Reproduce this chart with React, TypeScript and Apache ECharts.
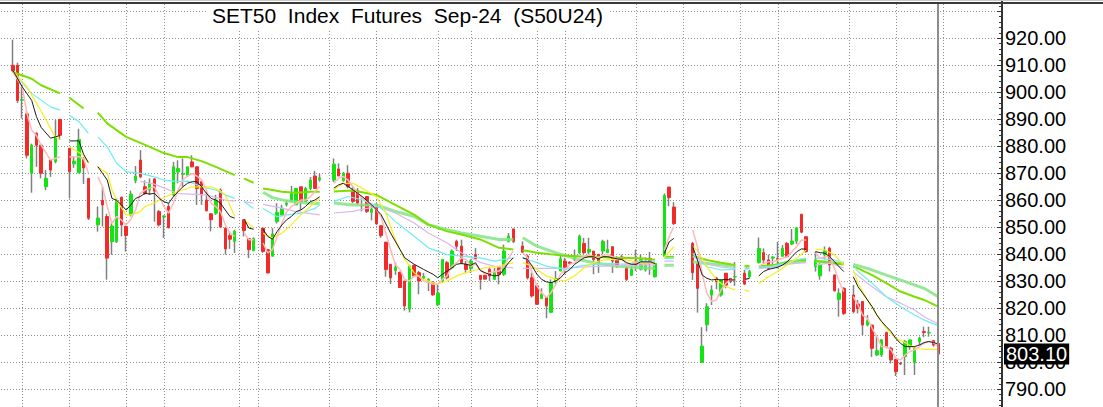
import React, { useEffect, useRef } from "react";
import * as echarts from "echarts";

const TITLE = "SET50  Index  Futures  Sep-24  (S50U24)";
const LAST_PRICE = 803.1;
const OFFSET = 2;
const TOTAL = 212;
const GAPS = [11, 17, 48, 52, 66, 67, 107, 137, 141, 142, 143, 154, 157, 169, 177];
const GRID_SLOTS = [2, 12, 24, 32, 48, 52, 67, 77, 90, 97, 111, 117, 132, 142, 154, 162, 177, 187, 197];
const NOW_SLOT = 196;
const SHIFT = 16; // chart box starts 16px above the page so the 940/780 frame falls outside the view

const OPEN = [910,910,897,892,870,884.8,880.4,865,874.9,874.3,
889.9,null,879.2,873.5,870.2,875,868.1,null,850.9,859.9,
854,844.7,844.7,861.1,850.3,854.6,867.3,874.9,865,863.8,
867.9,855.8,853.8,857.7,862,870.5,869.6,869.3,874.2,872.4,
866.9,860.1,855,855.2,863.8,849.7,846.9,844.8,null,852.8,
845.8,841.3,null,849.7,841.7,839.3,852.1,854.6,858.5,859.5,
858.3,865,859.5,864.4,869,867.6,null,null,867.5,871.6,
867.3,870,863.3,863.6,858.2,861.4,855.5,858.3,850.6,844.5,
836.3,834,833.4,830.1,819.7,835.9,833.2,831.2,829.5,829.5,
821.3,830.1,836.9,835,844.8,843,836.3,834.7,839.9,832.2,
832.2,834.4,830.7,835,832.6,844.8,849.4,null,843,839.3,
831.3,828.3,823.6,824,818.5,829.8,833.8,837.5,837,838.1,
840.6,844,840.8,841.2,840,841.2,840.6,842.8,838.1,839,
835,832.2,837.5,834.5,834.2,838.5,831.7,null,839.3,864.9,
857.5,null,null,null,844,836.6,800,813.9,824.9,831.1,
824.9,833,831.1,831.6,null,833,831.7,null,836.9,840.6,
837.9,838.6,838.4,839.3,844,843.8,844.9,854.8,846.5,null,
835.4,832,839.8,842.2,832.3,823.3,827.4,null,824.9,821.6,
822.5,813.8,813.8,802.7,802.7,811,805.2,801.1,799.6,802.1,
805.8,799.9,807.7,811.4,810.9,808,807];

const HIGH = [919.5,911,902,893,881,885.2,881,871.2,875.2,889.7,
890.2,null,879.5,876.1,886.5,876,868.3,null,857.7,865,
855,851.5,860.7,861.4,850.6,863.6,872.7,878.6,867.4,868.1,
868.2,856.4,854.4,858.9,874.2,874.8,875.5,872.4,876.7,872.6,
867.2,863.1,855.3,862,864.4,850,848.5,849.1,null,852.8,
846,846.3,null,849.7,841.9,849.7,858.9,858.3,860.1,865.3,
864.4,865,865,868.6,870.9,869.9,null,null,875.5,873.7,
870.5,873,865.1,864.5,861.4,861.4,858.3,858.9,850.6,844.5,
836.3,836.9,833.4,830.1,836.1,836.1,833.8,833.1,831.2,830.1,
828.9,838.1,837.5,841.8,845.4,845.4,837.5,838.1,842.3,832.2,
832.6,835,835,835,843.6,847.9,849.4,null,844.8,839.9,
833.2,829,827.4,824,830.7,833.8,840.1,838.7,837.5,841.8,
847.3,846.1,846.1,841.2,840,845.4,845.4,843,839.3,839.9,
835.6,835.6,841.8,840,838.9,840.9,836.9,null,862.5,864.9,
859.3,null,null,null,844.6,836.6,813,821.9,828.5,831.7,
830.5,833,831.1,837.1,null,834.2,834.2,null,846.2,842.2,
839.9,839.3,844.6,843.4,844.6,849.4,849.8,855,846.5,null,
841,836.7,842.9,842.8,832.6,827.4,827.8,null,828.6,823.1,
822.5,817.5,813.8,809.9,808.6,811.4,805.8,801.1,800.2,808.3,
808.3,805.8,809.5,813.2,813.2,808.3,807.3];

const LOW = [907.5,896,890.3,875.5,862.8,872.4,868.1,863.8,868.7,873.7,
882.3,null,860.7,872,870,866,852.7,null,848.4,850.3,
830.6,839.8,844.2,846.6,841,854,866.3,868.2,862,862,
852.1,850.3,846,849.5,861.4,866.3,865,868.7,872.2,858.3,
858.3,855.8,848.5,854.6,849.7,839.9,842,840.5,null,846.6,
838.6,841.3,null,840.5,832.9,839.2,851.4,854,857.7,859.5,
858.3,856.4,859.5,863.8,864.4,866.9,null,null,866.8,869,
866.9,864.4,858.9,858.3,855.9,855.3,852.6,850.9,846.1,831.7,
829,832.4,827.7,819.1,818.5,831.4,825.2,830.7,826.4,824.6,
820.9,829.5,830.7,834.4,841.2,836.3,833.1,833.1,838.3,826.9,
830.7,830.1,830.7,828.9,832,844.4,844.2,null,840.6,830.7,
824,821.5,823.6,816.3,818.5,828.9,833.8,832.6,836.3,837.5,
840,840,840,832.6,833.1,840,840.6,833.1,835,838.1,
830.1,832.2,833.8,834,833.6,832.4,831.4,null,839.1,857.8,
850.8,null,null,null,830.5,818.4,800,811.4,821.2,827.1,
824.3,827.4,829.3,828.3,null,828.6,831.1,null,836.6,836.6,
834.2,836,834.8,839.1,838.9,843.4,843.8,847.8,840.6,null,
833.6,830.6,838.1,833.6,826.2,816.9,817.5,null,818.1,818.1,
810.1,813.3,802,802.3,802,805.2,799.6,794.9,799,795.3,
804.6,795.3,806.4,809.3,809.5,805.8,802.7];

const CLOSE = [908,897,897.3,876.7,880.4,880.4,870,868.1,871.2,883.5,
884.1,null,870.6,874.5,882.5,872,853.4,null,853.4,858.3,
838.6,850.5,859.5,850.9,847,862.3,869,868.7,862.6,866.3,
863.4,850.9,854.2,849.9,872.4,871.8,869.8,872.4,872.4,864.4,
862,856.2,852.8,860.1,850.1,842,845.6,848.5,null,848.8,
841.7,845.8,null,841.1,833.1,847.5,855.5,857.1,858.9,862.6,
864.4,859.5,864.4,867.5,864.4,868.3,null,null,873.4,869,
870,865.1,859.6,859,858,855.9,856.7,851.3,846.9,834.4,
831.3,835.2,827.7,820.9,835.6,832,830.1,831.8,830.7,825,
825.6,838.1,831.3,841.2,843,836.9,834.4,837.5,838.3,830.7,
830.8,832,833.2,832.6,841.2,846.7,844.8,null,840.8,831.3,
824.6,821.5,825.2,820.9,829.5,831,838.3,835,836.6,839.6,
846.7,840.6,841.8,838.1,836.9,844.8,841.8,837.5,835.6,838.3,
830.7,834.4,836.3,838,836.6,837.2,836.6,null,861.8,861,
851.4,null,null,null,833.2,827.4,806,820.6,826.8,829.9,
830.5,828.6,829.9,831.8,null,829,833.6,null,842.2,837.9,
834.8,839,838,842.2,839.1,844.9,849.8,848.2,841,null,
837.9,836.1,841.4,836.1,826.5,825.6,818.1,null,818.8,820,
813.8,815.4,805.2,804.3,808.3,805.8,800.9,796.5,799.4,807.7,
808.3,805.2,808.9,811,811.1,806.4,803.1];

// moving-average lines: [slot, value]
const MA_BLACK = [[0,908.2],[2,902],[4,897],[5,891],[6,887],[8,883],[9,883.5],[10,884],[12,882],[14,882],[15,877],[16,874],
[18,872.5],[19,870],[20,867.5],[21,860.7],[22,860],[23,858.3],[24,856.4],[25,858.3],[26,860.7],[27,861.4],[28,862.6],[29,862.3],[30,862.6],[31,860.7],[32,859.5],[33,858.9],[34,861.3],[35,863.2],[36,865],[37,866.3],[38,866.9],[39,866.9],[40,865],[41,862.6],[42,860.7],[43,860.1],[44,858.9],[45,856.4],[46,854],[47,853.4],
[49,853],[50,849.7],[51,849.3],[53,849.3],[54,846.6],[55,845.6],[56,848.5],[57,850.9],[58,852.8],[59,854],[60,855.8],[61,856.4],[62,857.7],[63,859.5],[64,860.1],[65,861.3],
[68,864.5],[69,865.7],[70,866.3],[72,863.9],[74,861.4],[76,858.3],[78,854.7],[80,847.9],[82,841.8],[83,838.7],[85,836.3],[87,834.4],[89,832.6],[90,831.3],[91,832.6],[92,833.8],[93,835],[94,836.3],[95,836.6],[96,836.3],[97,835.9],[98,836.9],[99,834],[100,833.2],[101,832.5],[102,832],[103,832.2],[104,834.4],[105,836.9],[106,838.7],
[108,838.7],[109,838.1],[110,835.6],[111,832.6],[112,830.7],[113,829.8],[114,829.5],[115,830.1],[116,831.3],[117,833.2],[118,834.4],[119,836.3],[120,837.5],[121,838.7],[122,839.1],[123,839.1],[124,838.3],[125,839.1],[126,839.1],[127,838.7],[128,838.3],[129,838.1],[130,836.9],[131,836.3],[132,836.3],[133,837.2],[134,837.2],[135,837.2],[136,836.6],
[138,840.3],[139,844.6],[140,845.9],[144,842.8],[145,837.9],[146,832.3],[147,831.1],[148,830.5],[149,830.7],[150,830.5],[151,830.7],[152,830.5],[153,830.5],[155,830.7],[156,831.1],
[158,832],[159,833.6],[160,834.4],[161,834.8],[162,835.2],[163,836],[164,837.2],[165,839.1],[166,840.9],[167,842],[168,841.9],[170,841],[171,840.6],[172,840.4],[173,839.1],[174,837.3],[175,835.4],[176,833.6],
[178,831.7],[179,828],[180,825.6],[181,823.1],[182,820.6],[183,817.5],[184,815.1],[185,813.2],[186,811.4],[187,808.9],[188,807],[189,805.8],[190,805.8],[191,805.8],[192,806.4],[193,807.3],[194,807.7],[195,807.3],[196,806.8]];

const MA_PINK = [[0,907.5],[2,902],[3,892.1],[4,886],[5,884],[6,880.4],[8,874.9],[9,875.5],[10,876.1],[12,876.1],[14,876.1],[15,875.5],[16,870],
[18,868.7],[19,865],[20,857.7],[21,851.5],[22,854],[23,852.7],[24,850.9],[25,853],[26,856.4],[27,862.6],[28,863.8],[29,864.5],[30,865],[31,861.4],[32,857.7],[33,855.2],[34,858.9],[35,863.8],[36,867.5],[37,869],[38,869.9],[39,869],[40,867.5],[41,863.8],[42,858.9],[43,857.7],[44,855.8],[45,850.9],[46,847.9],[47,846.6],
[49,847.9],[50,845.4],[51,845.4],[53,844.2],[54,840.5],[55,841.7],[56,846.6],[57,851.5],[58,855.8],[59,857.7],[60,858.9],[61,860.1],[62,860.1],[63,861.3],[64,863.2],[65,865],
[68,866.3],[69,868.2],[70,868.8],[71,867.5],[72,865.1],[73,862.6],[74,860.8],[75,859.6],[76,858.3],[77,856.5],[78,854],[79,847.9],[80,841.8],[81,836.3],[82,834.4],[83,830.7],[84,830.1],[85,832],[86,832],[87,830.1],[88,829.5],[89,828.9],[90,828.9],[91,830.7],[92,832],[93,835.6],[94,836.9],[95,838.7],[96,838.1],[97,835.6],[98,836.3],[99,834.4],[100,832.5],[101,833.2],[102,833.5],[103,833.8],[104,835.6],[105,838.7],[106,841.2],
[108,840.6],[109,838.7],[110,833.2],[111,828.3],[112,825.8],[113,824],[114,825.8],[115,828.9],[116,832.6],[117,834.4],[118,836.3],[119,836.9],[120,838.7],[121,839.1],[122,839.9],[123,839.1],[124,838.7],[125,839.6],[126,839.9],[127,839.1],[128,838.1],[129,838.1],[130,836.3],[131,836.3],[132,836.9],[133,836.6],[134,836.4],[135,836.9],[136,836],
[138,841.5],[139,846.5],[140,850.2],[144,848.9],[145,842.8],[146,832.9],[147,825.6],[148,822.5],[149,823.1],[150,826.8],[151,829.2],[152,830.5],[153,830.5],[155,830.5],[156,831.1],
[158,835.4],[159,836.6],[160,837.2],[161,837.2],[162,837.9],[163,838.5],[164,839.1],[165,840.9],[166,842.8],[167,845.2],[168,845.3],[170,840.4],[171,838.5],[172,839.1],[173,839.1],[174,834.8],[175,829.9],[176,826.2],
[178,824.3],[179,821.2],[180,817.5],[181,816.3],[182,812.6],[183,809.5],[184,805.8],[185,805.8],[186,804.6],[187,801.5],[188,800.9],[189,802.7],[190,804],[191,804.6],[192,805.8],[193,807],[194,807.7],[195,807.3],[196,805.8]];

const MA_YELLOW = [[0,908],[3,902],[6,893],[9,883.5],[10,882.5],[12,879.8],[15,876.7],[16,873.7],
[18,872.4],[20,870],[21,863.8],[22,860],[24,854.6],[25,854.6],[27,855.8],[28,857.7],[30,859],[31,860.1],[34,862.6],[36,863.8],[38,865],[40,865],[42,865],[44,863.5],[45,862],[47,854],
[49,852.8],[51,849.7],[53,847.8],[55,846],[57,847.8],[59,850.9],[61,854.6],[63,857.7],[65,860.7],
[68,863.9],[70,866.3],[72,866.3],[74,864.5],[77,861.4],[79,855.3],[81,845.5],[83,838.1],[85,833.2],[87,830.7],[90,828.9],[92,830.1],[94,832],[96,833.2],[98,834.2],[100,835],[103,835.6],[106,836.9],
[108,836.9],[110,835.6],[113,832],[115,830.7],[117,830.1],[119,832],[121,835],[123,836.9],[125,837.9],[128,838.1],[130,837.9],[132,837.1],[134,836.9],[136,836.9],
[138,839],[140,842.8],[144,842.8],[145,841.5],[147,835.4],[149,830.5],[151,828],[153,826.8],[155,826.8],[156,826.2],
[158,829.2],[160,831.7],[162,833.6],[164,836],[166,838.5],[168,841.6],[170,841.9],[172,841.6],[174,839.8],[176,836],
[178,834.2],[179,829.3],[181,823.1],[183,817.5],[185,812.6],[187,808.9],[189,807.3],[191,805.2],[193,804.8],[195,804.8],[196,804.8]];

const MA_CYAN = [[0,907.5],[4,899.6],[8,894.6],[10,893.4],[12,891.5],[14,889.1],[16,884.8],
[18,883.5],[20,879.8],[22,873.7],[24,870.6],[27,870],[30,868.7],[32,867.5],[35,866.9],[37,867.1],[40,865],[43,863.8],[45,862],[47,860.7],
[49,859.5],[51,857],[53,857],[56,853.9],[58,854.6],[61,855.2],[64,857],[65,858.3],
[68,859.6],[71,861.4],[74,860.2],[78,857.1],[81,852.2],[85,846.7],[88,842.4],[92,839.9],[95,839.3],[99,838.7],[102,837.5],[106,838.7],
[108,838.7],[110,837.5],[113,835.6],[117,834.4],[120,835.6],[123,836.3],[127,836.6],[130,836.3],[133,837.5],[136,837.5],
[138,838.5],[140,838.5],[144,840.3],[147,835.4],[150,834.2],[153,834.4],[155,834.5],[156,834.6],
[158,835.2],[161,835.6],[164,836.9],[167,838.3],[168,838.5],[170,838.5],[171,838.5],[174,837.9],[176,837],
[178,836.2],[179,833.6],[182,829.3],[185,824.3],[188,820.6],[191,817.5],[193,815.7],[196,813.5]];

const MA_LAVENDER = [[27,867],[30,866],[35,862.5],[41,862],[45,860.1],[47,859.7],[49,859.5],[51,858.9],
[53,858.5],[56,857.5],[60,855.8],[65,854.6],
[68,855.3],[72,855.9],[77,857.7],[81,855.3],[85,851.6],[88,847.9],[92,844.2],[95,840.6],[99,837],[102,835.5],[106,835],
[108,834.8],[113,834.8],[117,834.8],[120,835.2],[125,835.6],[130,836],[136,836],
[138,837.5],[140,837.5],[144,839.1],[147,836.6],[150,835.2],[153,834.8],[155,834.8],[156,834.8],
[158,834.8],[161,835.2],[164,836.6],[168,836.9],[170,836],[173,836.7],[176,835],
[178,833.5],[181,829.3],[185,824.3],[188,821.9],[191,819.4],[193,816.9],[196,814.2]];

const MA_GREEN = [[0,907.5],[4,905],[6,902.6],[10,899.6],[12,898],[15,894],
[18,892.5],[20,888.5],[24,883.5],[29,879.8],[32,877.5],[35,876],[37,876],[40,874.5],[43,872.4],[47,869.3],
[49,868],[51,866.5],[53,864.4],[55,863.8],[57,863.2],[60,862.8],[63,863.2],[65,863.2],
[68,863.3],[72,863.6],[77,862],[81,858.3],[85,854.7],[88,851],[92,848.5],[95,847.3],[99,845.5],[103,842.4],[106,841.8],
[108,841.5],[111,840.6],[116,839.6],[120,839.3],[123,839.1],[128,838.7],[133,838.5],[136,838],
[138,839.1],[140,839.1],[144,839.3],[147,837.9],[150,836.9],[153,836],[155,835.8],[156,835.7],
[158,835.6],[161,836],[164,837.2],[167,837.9],[168,837.8],[170,837.6],[171,837.3],[176,836.2],
[178,835.5],[179,834.8],[182,832.3],[185,829.3],[188,826.2],[191,824.3],[193,823.1],[196,820.6]];

const MA_LIGHTGREEN = [[53,863],[55,861],[58,859.8],[62,859],[65,858.8],
[68,859],[72,858.3],[77,858.3],[81,855.9],[85,854],[88,851],[92,849.1],[95,847.9],[99,846.7],[103,845.5],[106,845.5],
[108,846.1],[111,843],[116,840],[120,838.1],[123,836.9],[128,835.6],[133,835],[136,834.8],
[138,835.9],[140,835.9],[144,837.2],[147,836.6],[150,836],[153,835.6],[155,835.4],[156,835.3],
[158,835.2],[161,835.6],[164,836.6],[167,837.2],[168,837.3],[170,837.3],[171,837.3],[176,836.5],
[178,836.2],[181,834.8],[185,832.3],[189,829.9],[193,827.4],[196,824.3]];

const GRID_COLOR = "#8f8f8f";
const UP = "#12e612";
const DOWN = "#f22a2a";
const WICK = "#808080";

function withBreaks(points: number[][]) {
  const out: any[] = [];
  for (let i = 0; i < points.length; i++) {
    if (i > 0) {
      const a = points[i - 1][0];
      const b = points[i][0];
      const g = GAPS.find((s) => s > a && s < b);
      if (g !== undefined) out.push([g + OFFSET, "-"]);
    }
    out.push([points[i][0] + OFFSET, points[i][1]]);
  }
  return out;
}

function pad(arr: any[]) {
  const out: any[] = [];
  for (let i = 0; i < TOTAL; i++) {
    const s = i - OFFSET;
    out.push(s >= 0 && s < arr.length ? arr[s] : ["-", "-", "-", "-"]);
  }
  return out;
}

export default function App() {
  const ref = useRef<HTMLDivElement>(null);
  useEffect(() => {
    if (!ref.current) return;
    const chart = echarts.init(ref.current, null, { renderer: "svg" });
    const cats = Array.from({ length: TOTAL }, (_, i) => String(i));
    const full = OPEN.map((o, i) => (o == null ? ["-", "-", "-", "-"] : [o, CLOSE[i], LOW[i], HIGH[i]]));
    const bodies = OPEN.map((o, i) =>
      o == null ? ["-", "-", "-", "-"] : [o, CLOSE[i]!, Math.min(o, CLOSE[i]!), Math.max(o, CLOSE[i]!)]
    );
    const maLine = (name: string, pts: number[][], color: string, width: number, z: number) => ({
      type: "line",
      name,
      data: withBreaks(pts),
      showSymbol: false,
      symbol: "none",
      connectNulls: false,
      silent: true,
      z,
      lineStyle: { color, width },
    });
    const vline = (slots: number[], color: string, width: number, dash: number[] | null, z: number) => ({
      type: "custom",
      silent: true,
      clip: false,
      z,
      data: slots.map((s) => [s + OFFSET, 860]),
      renderItem: (_p: any, api: any) => {
        const x = Math.round(api.coord([api.value(0), 860])[0]) + (width % 2 === 1 ? 0.5 : 0);
        return {
          type: "line",
          shape: { x1: x, y1: SHIFT + 4, x2: x, y2: SHIFT + 420 },
          style: { stroke: color, lineWidth: width, lineDash: dash || undefined },
        };
      },
    });
    const option: any = {
      animation: false,
      backgroundColor: "#ffffff",
      title: {
        text: TITLE,
        left: 206,
        top: SHIFT + 2,
        padding: [3, 6],
        backgroundColor: "#ffffff",
        textStyle: { fontFamily: "Liberation Sans", fontSize: 21, fontWeight: "normal", color: "#000" },
      },
      grid: { left: 1, right: 101, top: 0.3, bottom: 0.7, containLabel: false },
      xAxis: {
        type: "category",
        data: cats,
        boundaryGap: true,
        axisLine: { show: false },
        axisTick: { show: false },
        axisLabel: { show: false },
        splitLine: { show: false },
        splitArea: { show: false },
      },
      yAxis: {
        type: "value",
        position: "right",
        min: 780,
        max: 940,
        interval: 10,
        axisLine: { show: true, lineStyle: { color: "#333", width: 2 } },
        axisTick: { show: true, inside: true, length: 5, lineStyle: { color: "#333" } },
        minorTick: { show: true, splitNumber: 5, length: 3, lineStyle: { color: "#333" } },
        axisLabel: {
          margin: 3,
          color: "#000",
          fontFamily: "Liberation Sans",
          fontSize: 20,
          formatter: (v: number) => (v >= 930 || v <= 780 ? "" : v.toFixed(2)),
        },
        splitLine: { show: true, lineStyle: { color: GRID_COLOR, type: [1, 2], width: 1 } },
      },
      series: [
        vline(GRID_SLOTS, GRID_COLOR, 1, [1, 2], 1),
        {
          type: "candlestick",
          name: "wick",
          data: pad(full),
          barWidth: 1,
          silent: true,
          z: 2,
          itemStyle: { color: WICK, color0: WICK, borderColor: WICK, borderColor0: WICK, borderWidth: 1.5 },
        },
        {
          type: "candlestick",
          name: "body",
          data: pad(bodies),
          barWidth: 3,
          silent: true,
          z: 3,
          itemStyle: { color: UP, color0: DOWN, borderColor: UP, borderColor0: DOWN, borderWidth: 1 },
          markLine: {
            silent: true,
            z: 20,
            symbol: ["none", "none"],
            lineStyle: { color: "rgba(0,0,0,0)", width: 1, type: "solid", opacity: 1 },
            data: [
              {
                yAxis: LAST_PRICE,
                label: {
                  show: true,
                  position: "end",
                  distance: 2,
                  formatter: LAST_PRICE.toFixed(2),
                  backgroundColor: "#000000",
                  color: "#ffffff",
                  opacity: 1,
                  fontFamily: "Liberation Sans",
                  fontSize: 20,
                  lineHeight: 20,
                  padding: [1, 2, 0, 2],
                },
              },
            ],
          },
        },
        maLine("light green", MA_LIGHTGREEN, "rgba(130,228,130,0.85)", 3, 4),
        maLine("green", MA_GREEN, "#7ddf00", 2, 5),
        maLine("lavender", MA_LAVENDER, "#dcb6ee", 1.2, 5),
        maLine("cyan", MA_CYAN, "#6eeeee", 1.2, 6),
        maLine("yellow", MA_YELLOW, "#f7ef1a", 1.2, 6),
        maLine("pink", MA_PINK, "#ffb9b9", 1.5, 6),
        maLine("black", MA_BLACK, "#1e1e1e", 1, 7),
        vline([NOW_SLOT], "#8c8c8c", 2, null, 8),
      ],
      graphic: [
        { type: "rect", silent: true, z: 100, shape: { x: 0, y: SHIFT, width: 1103, height: 1 }, style: { fill: "#c8c8c8" } },
        { type: "rect", silent: true, z: 100, shape: { x: 0, y: SHIFT + 2, width: 1103, height: 2 }, style: { fill: "#3a3a3a" } },
      ],
    };
    chart.setOption(option);
    return () => chart.dispose();
  }, []);
  return (
    <div
      ref={ref}
      style={{ position: "fixed", left: 0, top: -SHIFT, width: 1103, height: 433, background: "#fff" }}
    />
  );
}
